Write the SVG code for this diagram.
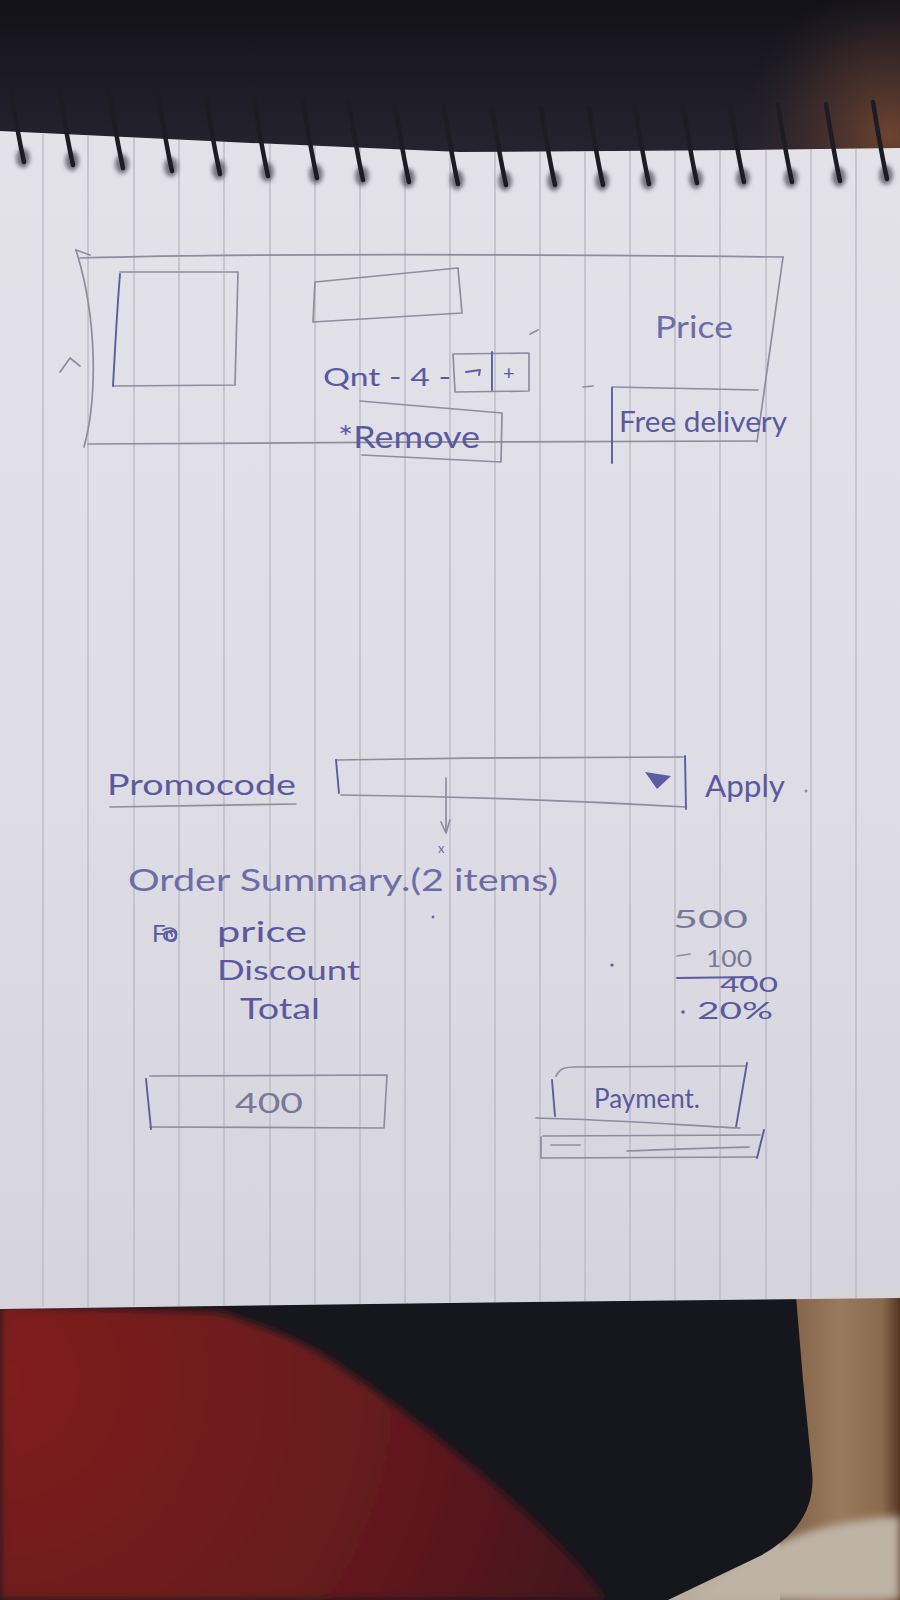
<svg xmlns="http://www.w3.org/2000/svg" width="900" height="1600" viewBox="0 0 900 1600">
  <defs>
    <linearGradient id="topDark" x1="0" y1="0" x2="0" y2="1">
      <stop offset="0" stop-color="#131218"/>
      <stop offset="1" stop-color="#262430"/>
    </linearGradient>
    <radialGradient id="brownGlow" cx="890" cy="135" r="150" gradientUnits="userSpaceOnUse">
      <stop offset="0" stop-color="#6e4430"/>
      <stop offset="0.6" stop-color="#47302a" stop-opacity="0.55"/>
      <stop offset="1" stop-color="#2a2228" stop-opacity="0"/>
    </radialGradient>
    <linearGradient id="paperFill" x1="0" y1="0" x2="0" y2="1">
      <stop offset="0" stop-color="#e3e2e9"/>
      <stop offset="0.5" stop-color="#dfdee6"/>
      <stop offset="1" stop-color="#d5d3db"/>
    </linearGradient>
    <linearGradient id="tanStrip" x1="780" y1="0" x2="900" y2="0" gradientUnits="userSpaceOnUse">
      <stop offset="0" stop-color="#7e5f47"/>
      <stop offset="0.5" stop-color="#9a7a5c"/>
      <stop offset="0.85" stop-color="#8a6a4e"/>
      <stop offset="1" stop-color="#55351f"/>
    </linearGradient>
    <radialGradient id="redCloth" cx="0" cy="1380" r="620" gradientUnits="userSpaceOnUse">
      <stop offset="0" stop-color="#801d1f"/>
      <stop offset="0.6" stop-color="#661a1c"/>
      <stop offset="1" stop-color="#44151a"/>
    </radialGradient>
    <filter id="soft" x="-10%" y="-10%" width="120%" height="120%">
      <feGaussianBlur stdDeviation="4"/>
    </filter>
    <filter id="softer" x="-50%" y="-50%" width="200%" height="200%">
      <feGaussianBlur stdDeviation="2"/>
    </filter>
    <style>
      .rule { stroke:#b9b7c3; stroke-width:1.3; }
      .wire { stroke:#1d1c22; stroke-width:4.5; fill:none; stroke-linecap:round; }
      .hole { fill:#4d4c55; opacity:0.75; }
      .pencil { stroke:#8e8c9e; stroke-width:1.7; fill:none; stroke-linecap:round; stroke-linejoin:round; }
      .pen { stroke:#5d5ca0; stroke-width:1.9; fill:none; stroke-linecap:round; stroke-linejoin:round; }
      .ink { fill:#5a59a0; font-family:"Lato","Open Sans","DejaVu Sans",sans-serif; }
      .inkLight { fill:#6e6ca8; font-family:"Lato","Open Sans","DejaVu Sans",sans-serif; }
      .inkGrey { fill:#7a7898; font-family:"Lato","Open Sans","DejaVu Sans",sans-serif; }
    </style>
  </defs>

  <!-- surroundings of the notebook -->
  <g id="background">
    <rect x="0" y="0" width="900" height="1600" fill="#1b1a21"/>
    <rect x="0" y="0" width="900" height="160" fill="url(#topDark)"/>
    <rect x="600" y="0" width="300" height="170" fill="url(#brownGlow)"/>
    <rect x="0" y="1290" width="900" height="310" fill="#b8ad9d"/>
    <rect x="780" y="1290" width="120" height="310" fill="url(#tanStrip)"/>
    <path d="M690,1600 L760,1552 C800,1532 840,1520 900,1516 L900,1600 Z" fill="#bdb3a4" filter="url(#soft)"/>
    <path d="M0,1298 L796,1296 L803,1380 L812,1470 C816,1510 796,1536 760,1556 L668,1600 L0,1600 Z" fill="#16161d"/>
    <path d="M0,1305 L219,1312 C260,1325 300,1340 330,1360 C390,1400 455,1450 505,1495 C550,1535 585,1570 606,1600 L0,1600 Z" fill="url(#redCloth)" filter="url(#soft)"/>
  </g>

  <!-- sheet with ruled lines -->
  <g id="paper">
    <path d="M0,131 L230,142 L460,152 L750,150 L900,148 L900,1298 L450,1303 L0,1309 Z" fill="url(#paperFill)"/>
    <g id="rules">
      <line class="rule" x1="43" y1="134" x2="43" y2="1307"/>
      <line class="rule" x1="88" y1="136" x2="88" y2="1307"/>
      <line class="rule" x1="134" y1="138" x2="134" y2="1306"/>
      <line class="rule" x1="179" y1="140" x2="179" y2="1306"/>
      <line class="rule" x1="224" y1="142" x2="224" y2="1305"/>
      <line class="rule" x1="270" y1="144" x2="270" y2="1305"/>
      <line class="rule" x1="315" y1="146" x2="315" y2="1304"/>
      <line class="rule" x1="360" y1="148" x2="360" y2="1304"/>
      <line class="rule" x1="405" y1="150" x2="405" y2="1303"/>
      <line class="rule" x1="450" y1="152" x2="450" y2="1303"/>
      <line class="rule" x1="495" y1="152" x2="495" y2="1302"/>
      <line class="rule" x1="540" y1="152" x2="540" y2="1302"/>
      <line class="rule" x1="585" y1="152" x2="585" y2="1301"/>
      <line class="rule" x1="630" y1="151" x2="630" y2="1301"/>
      <line class="rule" x1="675" y1="151" x2="675" y2="1300"/>
      <line class="rule" x1="720" y1="150" x2="720" y2="1300"/>
      <line class="rule" x1="766" y1="150" x2="766" y2="1299"/>
      <line class="rule" x1="811" y1="149" x2="811" y2="1299"/>
      <line class="rule" x1="856" y1="149" x2="856" y2="1298"/>
    </g>
  </g>

  <!-- spiral binding -->
  <g id="spiral">
    <g filter="url(#softer)">
      <ellipse class="hole" cx="23" cy="158" rx="7" ry="10"/>
      <ellipse class="hole" cx="72" cy="161" rx="7" ry="10"/>
      <ellipse class="hole" cx="122" cy="164" rx="7" ry="10"/>
      <ellipse class="hole" cx="171" cy="167" rx="7" ry="10"/>
      <ellipse class="hole" cx="219" cy="170" rx="7" ry="10"/>
      <ellipse class="hole" cx="267" cy="172" rx="7" ry="10"/>
      <ellipse class="hole" cx="316" cy="174" rx="7" ry="10"/>
      <ellipse class="hole" cx="362" cy="176" rx="7" ry="10"/>
      <ellipse class="hole" cx="408" cy="178" rx="7" ry="10"/>
      <ellipse class="hole" cx="457" cy="180" rx="7" ry="10"/>
      <ellipse class="hole" cx="505" cy="181" rx="7" ry="10"/>
      <ellipse class="hole" cx="554" cy="181" rx="7" ry="10"/>
      <ellipse class="hole" cx="602" cy="181" rx="7" ry="10"/>
      <ellipse class="hole" cx="648" cy="180" rx="7" ry="10"/>
      <ellipse class="hole" cx="696" cy="179" rx="7" ry="10"/>
      <ellipse class="hole" cx="743" cy="178" rx="7" ry="10"/>
      <ellipse class="hole" cx="791" cy="178" rx="7" ry="10"/>
      <ellipse class="hole" cx="839" cy="177" rx="7" ry="10"/>
      <ellipse class="hole" cx="886" cy="175" rx="7" ry="10"/>
    </g>
    <path class="wire" d="M10,85 C14,110 18,135 24,162"/>
    <path class="wire" d="M59,88 C63,113 67,138 73,165"/>
    <path class="wire" d="M109,91 C113,116 117,141 123,168"/>
    <path class="wire" d="M158,94 C162,119 166,144 172,171"/>
    <path class="wire" d="M206,97 C210,122 214,147 220,174"/>
    <path class="wire" d="M254,99 C258,124 262,149 268,176"/>
    <path class="wire" d="M303,101 C307,126 311,151 317,178"/>
    <path class="wire" d="M349,103 C353,128 357,153 363,180"/>
    <path class="wire" d="M395,105 C399,130 403,155 409,182"/>
    <path class="wire" d="M444,107 C448,132 452,157 458,184"/>
    <path class="wire" d="M492,108 C496,133 500,158 506,185"/>
    <path class="wire" d="M541,108 C545,133 549,158 555,185"/>
    <path class="wire" d="M589,108 C593,133 597,158 603,185"/>
    <path class="wire" d="M635,107 C639,132 643,157 649,184"/>
    <path class="wire" d="M683,106 C687,131 691,156 697,183"/>
    <path class="wire" d="M730,105 C734,130 738,155 744,182"/>
    <path class="wire" d="M778,105 C782,130 786,155 792,182"/>
    <path class="wire" d="M826,104 C830,129 834,154 840,181"/>
    <path class="wire" d="M873,102 C877,127 881,152 887,179"/>
  </g>

  <!-- cart item card -->
  <g id="item-card">
    <path class="pencil" d="M80,258 C300,252 600,255 783,257"/>
    <path class="pencil" d="M76,250 L90,255"/>
    <path class="pencil" d="M76,250 C98,320 97,400 84,447"/>
    <path class="pencil" d="M60,372 L70,358 L80,366"/>
    <path class="pencil" d="M783,257 L757,442"/>
    <path class="pencil" d="M88,444 C300,442 550,442 757,441"/>
  </g>

  <g id="item-image">
    <path class="pencil" d="M120,272 L238,272 L235,385 L114,386"/>
    <path class="pen" d="M120,274 C117,310 115,350 113,386"/>
  </g>

  <g id="item-title">
    <path class="pencil" d="M315,282 L458,268 L462,313 L313,322 Z"/>
  </g>

  <g id="item-quantity">
    <text class="ink" x="323" y="386" font-size="25" textLength="128" lengthAdjust="spacingAndGlyphs">Qnt - 4 -</text>
    <path class="pencil" d="M453,354 L529,353 L529,391 L455,392 Z"/>
    <path class="pen" d="M492,352 L492,390"/>
    <path class="pen" d="M466,372 L480,370 L479,375"/>
    <text class="ink" x="503" y="380" font-size="20">+</text>
    <path class="pencil" d="M530,334 L538,330"/>
  </g>

  <g id="item-remove">
    <path class="pencil" d="M360,401 L502,413 L501,462 L362,455"/>
    <text class="ink" x="338" y="448" font-size="30" textLength="142" lengthAdjust="spacingAndGlyphs">*Remove</text>
  </g>

  <g id="item-price">
    <text class="inkLight" x="655" y="338" font-size="30" textLength="78" lengthAdjust="spacingAndGlyphs">Price</text>
  </g>

  <g id="item-delivery">
    <path class="pencil" d="M583,387 L593,386"/>
    <path class="pencil" d="M612,387 L758,390"/>
    <path class="pen" d="M612,388 L612,463"/>
    <text class="ink" x="619" y="432" font-size="28" textLength="168" lengthAdjust="spacingAndGlyphs">Free delivery</text>
  </g>

  <!-- promo code row -->
  <g id="promo-label">
    <text class="ink" x="107" y="795" font-size="29" textLength="189" lengthAdjust="spacingAndGlyphs">Promocode</text>
    <path class="pencil" d="M110,807 L296,804"/>
  </g>

  <g id="promo-input">
    <path class="pencil" d="M336,760 C450,758 580,757 683,757"/>
    <path class="pen" d="M336,760 L339,793"/>
    <path class="pencil" d="M341,795 C500,797 600,802 686,807"/>
    <path class="pen" d="M685,756 L686,809"/>
    <path d="M645,772 L671,776 L657,789 Z" fill="#5d5ca0"/>
  </g>

  <g id="promo-apply">
    <text class="ink" x="705" y="797" font-size="31" textLength="80" lengthAdjust="spacingAndGlyphs">Apply</text>
    <circle cx="806" cy="791" r="1.5" fill="#8e8c9e"/>
  </g>

  <g id="connectors">
    <path class="pencil" d="M446,778 L446,832"/>
    <path class="pencil" d="M441,822 L446,833 L450,820"/>
  </g>

  <!-- order summary -->
  <g id="order-summary">
    <text class="inkLight" x="128" y="891" font-size="30" textLength="430" lengthAdjust="spacingAndGlyphs">Order Summary.(2 items)</text>
    <text class="inkLight" x="438" y="853" font-size="13">x</text>
    <circle cx="433" cy="917" r="1.4" fill="#6e6ca8"/>
  </g>

  <g id="summary-labels">
    <text class="ink" x="152" y="942" font-size="24" textLength="26" lengthAdjust="spacingAndGlyphs">Fo</text>
    <path class="pen" d="M163,930 C170,926 178,929 176,936 C174,942 164,942 164,935 C165,930 172,931 172,936"/>
    <text class="ink" x="217" y="942" font-size="28" textLength="90" lengthAdjust="spacingAndGlyphs">price</text>
    <text class="ink" x="217" y="980" font-size="27" textLength="143" lengthAdjust="spacingAndGlyphs">Discount</text>
    <text class="ink" x="240" y="1019" font-size="28" textLength="80" lengthAdjust="spacingAndGlyphs">Total</text>
  </g>

  <g id="summary-values">
    <text class="inkGrey" x="673" y="928" font-size="25" textLength="75" lengthAdjust="spacingAndGlyphs">500</text>
    <path class="pencil" d="M677,956 L690,954"/>
    <text class="inkGrey" x="706" y="967" font-size="24" textLength="46" lengthAdjust="spacingAndGlyphs">100</text>
    <path class="pen" d="M677,978 L753,977"/>
    <text class="ink" x="720" y="992" font-size="22" textLength="58" lengthAdjust="spacingAndGlyphs">400</text>
    <circle cx="683" cy="1012" r="1.8" fill="#5a59a0"/>
    <text class="ink" x="697" y="1019" font-size="24" textLength="76" lengthAdjust="spacingAndGlyphs">20%</text>
    <circle cx="612" cy="965" r="1.6" fill="#5a59a0"/>
  </g>

  <!-- bottom actions -->
  <g id="total-box">
    <path class="pencil" d="M150,1076 L387,1075 L384,1128 L150,1127"/>
    <path class="pen" d="M146,1079 L151,1129"/>
    <text class="inkGrey" x="235" y="1113" font-size="26" textLength="68" lengthAdjust="spacingAndGlyphs">400</text>
  </g>

  <g id="payment-button">
    <path class="pencil" d="M556,1076 C560,1068 566,1067 575,1067 L745,1066"/>
    <path class="pen" d="M552,1080 L555,1116"/>
    <path class="pen" d="M747,1063 L736,1127"/>
    <path class="pencil" d="M536,1118 C620,1120 680,1125 740,1128"/>
    <text class="ink" x="594" y="1108" font-size="27" textLength="106" lengthAdjust="spacingAndGlyphs">Payment.</text>
  </g>

  <g id="payment-bar">
    <path class="pencil" d="M543,1136 L760,1135"/>
    <path class="pencil" d="M541,1137 L541,1158 L757,1157"/>
    <path class="pen" d="M764,1130 L757,1158"/>
    <path class="pencil" d="M551,1145 L580,1145"/>
    <path class="pencil" d="M627,1151 C670,1149 710,1148 749,1147"/>
  </g>
</svg>
